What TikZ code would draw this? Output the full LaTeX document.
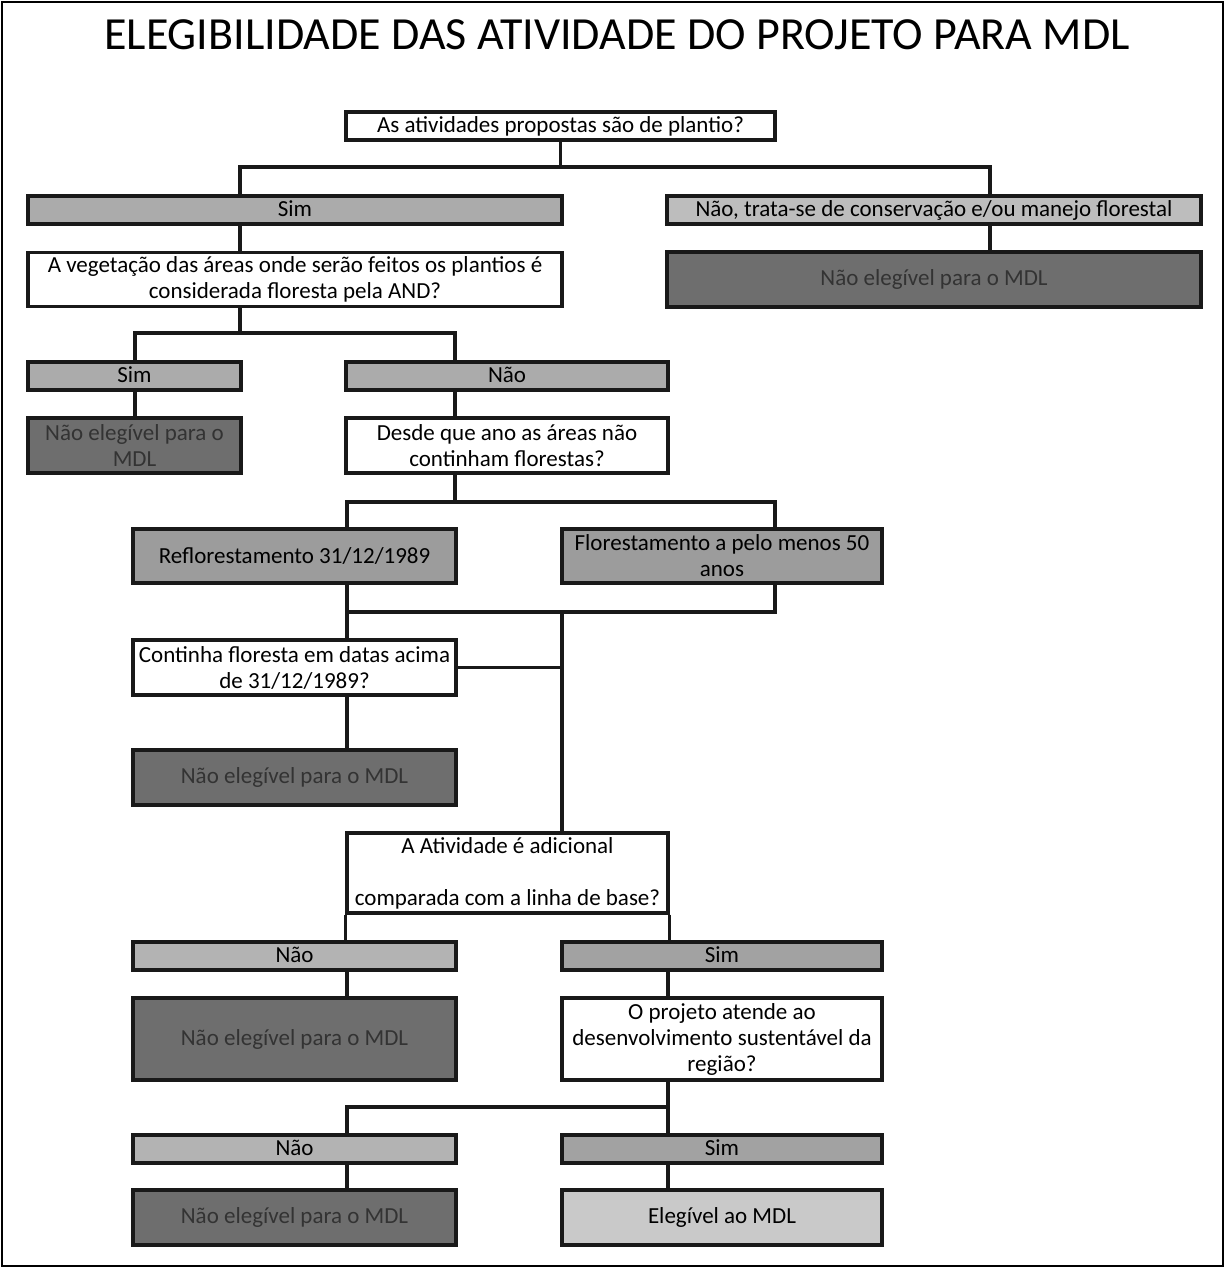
\documentclass[tikz,border=0pt]{standalone}
\usepackage{fontspec}
\setmainfont{Carlito}
\usepackage{tikz}
\usetikzlibrary{calc,positioning}
\definecolor{barsim}{HTML}{ABABAB}
\definecolor{barlight}{HTML}{BDBDBD}
\definecolor{barnao}{HTML}{B3B3B3}
\definecolor{bardark}{HTML}{A2A2A2}
\definecolor{datebox}{HTML}{9C9C9C}
\definecolor{nobox}{HTML}{6E6E6E}
\definecolor{yesbox}{HTML}{C9C9C9}

\begin{document}
\begin{tikzpicture}[x=0.5pt,y=-0.5pt,
  box/.style={draw=black!90,line width=1.6pt,inner sep=0pt,align=center,
    font=\fontsize{11.5}{13}\selectfont},
  ask/.style={box,fill=white},
  bar/.style={box,minimum height=14pt,text height=8.6pt,text depth=2.2pt},
  noel/.style={box,fill=nobox,text=black!80},
  link/.style={line width=1.7pt,black!90}]
  \useasboundingbox (0,0) rectangle (1225,1268);
  \draw[line width=1.1pt] (2,2) rectangle (1223,1266);
  \node (title) at (617,35) {\fontsize{23}{27}\selectfont ELEGIBILIDADE DAS ATIVIDADE DO PROJETO PARA MDL};

  \node[ask,minimum width=214.5pt,minimum height=14pt,text height=8.6pt,text depth=2.2pt] (q1) at (560.5,126) {As atividades propostas são de plantio?};
  \node[bar,fill=barsim,minimum width=267pt] (sim1) at (295,210) {Sim};
  \node[bar,fill=barlight,minimum width=267pt] (naocons) at (934,210) {Não, trata-se de conservação e/ou manejo florestal};
  \node[ask,minimum width=267pt,minimum height=27pt] (q2) at (295,279.5) {A vegetação das áreas onde serão feitos os plantios é\\considerada floresta pela AND?};
  \node[noel,minimum width=267pt,minimum height=27.5pt] (ne1) at (934,279.5) {Não elegível para o MDL};
  \node[bar,fill=barsim,minimum width=106.5pt] (sim2) at (134.5,376) {Sim};
  \node[bar,fill=barsim,minimum width=161pt] (nao2) at (507,376) {Não};
  \node[noel,minimum width=106.5pt,minimum height=27.5pt] (ne2) at (134.5,445.5) {Não elegível para o\\MDL};
  \node[ask,minimum width=161pt,minimum height=27.5pt] (q3) at (507,445.5) {Desde que ano as áreas não\\continham florestas?};
  \node[box,fill=datebox,minimum width=161.5pt,minimum height=27pt] (refl) at (294.5,556) {Reflorestamento 31/12/1989};
  \node[box,fill=datebox,minimum width=160pt,minimum height=27pt] (flor) at (722,556) {Florestamento a pelo menos 50\\anos};
  \node[ask,minimum width=161.5pt,minimum height=27.5pt] (q4) at (294.5,667.5) {Continha floresta em datas acima\\de 31/12/1989?};
  \node[noel,minimum width=161.5pt,minimum height=27.5pt] (ne3) at (294.5,777.5) {Não elegível para o MDL};
  \node[ask,minimum width=160.5pt,minimum height=40pt] (q5) at (507.5,873) {A Atividade é adicional\\[13pt]comparada com a linha de base?};
  \node[bar,fill=barnao,minimum width=161.5pt] (nao3) at (294.5,956) {Não};
  \node[bar,fill=bardark,minimum width=160pt] (sim3) at (722,956) {Sim};
  \node[noel,minimum width=161.5pt,minimum height=41pt] (ne4) at (294.5,1039) {Não elegível para o MDL};
  \node[ask,minimum width=160pt,minimum height=41pt] (q6) at (722,1039) {O projeto atende ao\\desenvolvimento sustentável da\\região?};
  \node[bar,fill=barnao,minimum width=161.5pt] (nao4) at (294.5,1149) {Não};
  \node[bar,fill=bardark,minimum width=160pt] (sim4) at (722,1149) {Sim};
  \node[noel,minimum width=161.5pt,minimum height=27.5pt] (ne5) at (294.5,1217.5) {Não elegível para o MDL};
  \node[box,fill=yesbox,minimum width=160pt,minimum height=27.5pt] (eleg) at (722,1217.5) {Elegível ao MDL};

  \coordinate (a1) at (560.5,167);
  \coordinate (a1l) at (240,167);
  \coordinate (a1r) at (990,167);
  \coordinate (a2) at (240,333);
  \coordinate (a2l) at (135,333);
  \coordinate (a2r) at (455,333);
  \coordinate (a3) at (455,502);
  \coordinate (a3l) at (347,502);
  \coordinate (a3r) at (775,502);
  \coordinate (a4l) at (347,612);
  \coordinate (a4m) at (562,612);
  \coordinate (a4r) at (775,612);
  \coordinate (a5) at (668,1107);
  \coordinate (a5l) at (347,1107);

  \draw[link] (q1.south) -- (a1);
  \draw[link] (a1l |- sim1.north) -- (a1l) -- (a1r) -- (a1r |- naocons.north);
  \draw[link] (a1l |- sim1.south) -- (a1l |- q2.north);
  \draw[link] (a1r |- naocons.south) -- (a1r |- ne1.north);
  \draw[link] (a2 |- q2.south) -- (a2);
  \draw[link] (a2l |- sim2.north) -- (a2l) -- (a2r) -- (a2r |- nao2.north);
  \draw[link] (a2l |- sim2.south) -- (a2l |- ne2.north);
  \draw[link] (a2r |- nao2.south) -- (a2r |- q3.north);
  \draw[link] (a3 |- q3.south) -- (a3);
  \draw[link] (a3l |- refl.north) -- (a3l) -- (a3r) -- (a3r |- flor.north);
  \draw[link] (a4l |- refl.south) -- (a4l) -- (a4r) -- (a4r |- flor.south);
  \draw[link] (a4l) -- (a4l |- q4.north);
  \draw[link] (a4m) -- (a4m |- q5.north);
  \draw[link] (q4.east) -- (q4.east -| a4m);
  \draw[link] (a4l |- q4.south) -- (a4l |- ne3.north);
  \draw[link] (q5.south west) -- (q5.south west |- nao3.north);
  \draw[link] (q5.south east) -- (q5.south east |- sim3.north);
  \draw[link] (a4l |- nao3.south) -- (a4l |- ne4.north);
  \draw[link] (a5 |- sim3.south) -- (a5 |- q6.north);
  \draw[link] (a5 |- q6.south) -- (a5 |- sim4.north);
  \draw[link] (a5) -- (a5l) -- (a5l |- nao4.north);
  \draw[link] (a5l |- nao4.south) -- (a5l |- ne5.north);
  \draw[link] (a5 |- sim4.south) -- (a5 |- eleg.north);
\end{tikzpicture}
\end{document}
